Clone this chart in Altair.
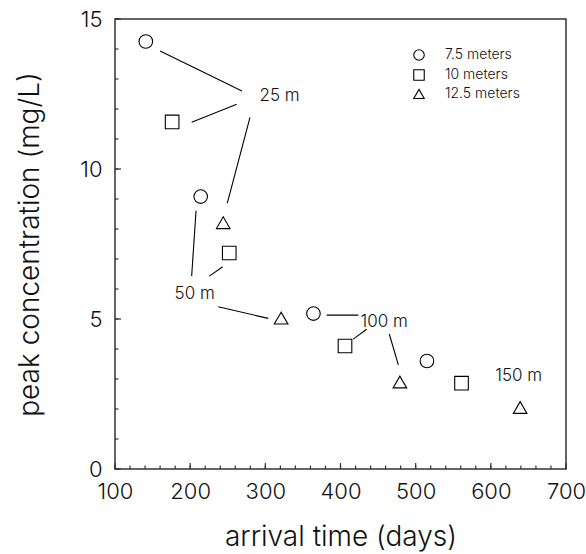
import altair as alt
import pandas as pd

# ---- data ----
series = ["7.5 meters", "10 meters", "12.5 meters"]
shapes = ["circle", "square", "triangle-up"]

circle_x = [141, 214, 364, 515]
circle_y = [14.25, 9.08, 5.18, 3.60]
square_x = [176, 252, 406, 561]
square_y = [11.57, 7.20, 4.10, 2.86]
triangle_x = [244, 321, 479, 639]
triangle_y = [8.21, 5.03, 2.90, 2.05]

label_text = ["25 m", "50 m", "100 m", "150 m"]
label_x = [319, 206, 458, 637]
label_y = [12.43, 5.82, 4.91, 3.09]

# leader lines: start / end
seg_x1 = [160, 202, 279.6, 207.8, 243.3, 237.4, 381.6, 417.0, 464.9]
seg_y1 = [13.93, 11.56, 11.72, 8.61, 6.74, 5.41, 5.13, 4.33, 4.50]
seg_x2 = [268.9, 261.9, 249.4, 202.0, 225.4, 303.9, 423.7, 434.8, 476.9]
seg_y2 = [12.60, 12.16, 8.86, 6.43, 6.43, 5.02, 5.13, 4.66, 3.47]

x_major = [100, 200, 300, 400, 500, 600, 700]
x_minor = list(range(100, 701, 20))
y_major = [0, 5, 10, 15]
y_minor = list(range(0, 16))

# ---- tables ----
pts = pd.DataFrame({
    "time": circle_x + square_x + triangle_x,
    "conc": circle_y + square_y + triangle_y,
    "depth": [series[0]] * len(circle_x) + [series[1]] * len(square_x) + [series[2]] * len(triangle_x),
})
labels = pd.DataFrame({"t": label_text, "x": label_x, "y": label_y})
segs = pd.DataFrame({"x1": seg_x1, "y1": seg_y1, "x2": seg_x2, "y2": seg_y2})

W, H = 451, 450
FONT = "Inter"
WT = 300
xs = alt.Scale(domain=[100, 700], nice=False, zero=False)
ys = alt.Scale(domain=[0, 15], nice=False, zero=False)

points = alt.Chart(pts).mark_point(filled=False, color="black", size=185, strokeWidth=1.1, opacity=1).encode(
    x=alt.X("time:Q", scale=xs, title="arrival time (days)",
            axis=alt.Axis(values=x_major, labelPadding=12, titlePadding=21,
                          labelFlush=False, labelOverlap=False)),
    y=alt.Y("conc:Q", scale=ys, title="peak concentration (mg/L)",
            axis=alt.Axis(values=y_major, labelPadding=13, titlePadding=35,
                          labelFlush=False, labelOverlap=False)),
    shape=alt.Shape("depth:N", scale=alt.Scale(domain=series, range=shapes),
                    legend=alt.Legend(title=None, orient="none", legendX=297, legendY=29,
                                      symbolSize=110, symbolStrokeWidth=1.1,
                                      symbolStrokeColor="black", symbolFillColor="transparent",
                                      labelFontSize=14, labelFont=FONT, labelFontWeight=WT,
                                      labelOffset=19, rowPadding=4, padding=0, labelColor="#111")),
)

lines = alt.Chart(segs).mark_rule(color="black", strokeWidth=1.1).encode(
    x=alt.X("x1:Q", scale=xs), y=alt.Y("y1:Q", scale=ys),
    x2="x2:Q", y2="y2:Q",
)

texts = alt.Chart(labels).mark_text(font=FONT, fontSize=17, fontWeight=WT, color="#111").encode(
    x=alt.X("x:Q", scale=xs), y=alt.Y("y:Q", scale=ys), text="t:N",
)

xmaj = alt.Chart(pd.DataFrame({"v": x_major})).mark_rule(color="#333", strokeWidth=1.2).encode(
    x=alt.X("v:Q", scale=xs), y=alt.value(H), y2=alt.value(H - 6))
xmin = alt.Chart(pd.DataFrame({"v": x_minor})).mark_rule(color="#333", strokeWidth=1.2).encode(
    x=alt.X("v:Q", scale=xs), y=alt.value(H), y2=alt.value(H - 3.5))
ymaj = alt.Chart(pd.DataFrame({"v": y_major})).mark_rule(color="#333", strokeWidth=1.2).encode(
    y=alt.Y("v:Q", scale=ys), x=alt.value(0), x2=alt.value(6))
ymin = alt.Chart(pd.DataFrame({"v": y_minor})).mark_rule(color="#333", strokeWidth=1.2).encode(
    y=alt.Y("v:Q", scale=ys), x=alt.value(0), x2=alt.value(3.5))

chart = alt.layer(points, lines, texts, xmin, xmaj, ymin, ymaj).properties(
    width=W, height=H,
    autosize=alt.AutoSizeParams(type="none"),
    padding={"left": 115, "top": 19, "right": 20, "bottom": 85},
).configure_view(
    stroke="#333", strokeWidth=1.5
).configure_axis(
    domain=False, ticks=False, grid=False,
    labelFont=FONT, labelFontSize=22, labelFontWeight=WT, labelColor="#111",
    titleFont=FONT, titleFontSize=28, titleFontWeight=WT, titleColor="#111",
)

chart.save("out.html", embed_options={"renderer": "svg", "actions": False})
